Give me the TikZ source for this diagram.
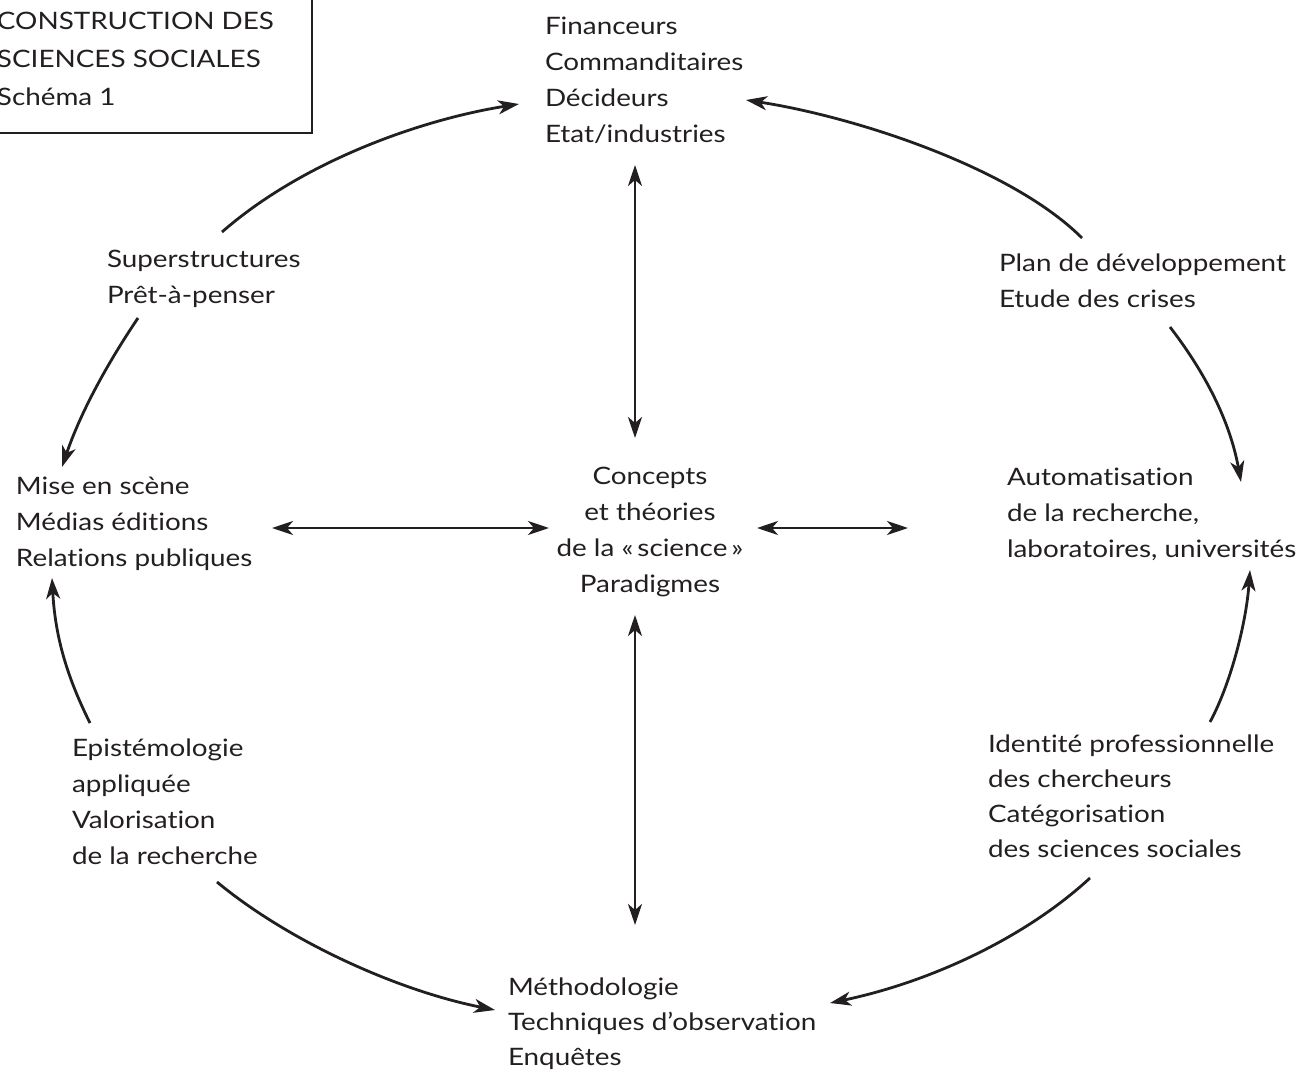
\documentclass[tikz,border=0pt]{standalone}
\usepackage{fontspec}
\setmainfont{Lato}[FakeStretch=1.16,Ligatures=CommonOff]
\usetikzlibrary{arrows.meta}
\definecolor{ink}{RGB}{35,31,32}
\begin{document}
\begin{tikzpicture}[x=1pt,y=-1pt,
  every node/.style={inner sep=0pt,outer sep=0pt,text=ink},
  lbl/.style={anchor=base west,align=left,font=\fontsize{24}{36}\selectfont},
  cbl/.style={anchor=base,align=center,font=\fontsize{24}{36}\selectfont},
  link/.style={draw=ink,line width=2.8pt,-{Stealth[length=21pt,width=14pt,inset=6pt]}},
  dlink/.style={draw=ink,line width=2.8pt,{Stealth[length=21pt,width=14pt,inset=6pt]}-{Stealth[length=21pt,width=14pt,inset=6pt]}}]
\useasboundingbox (0,0) rectangle (1311,1078);

% title box (anchored on the baseline of its last line)
\draw[ink,line width=1.3pt] (-10,-10) rectangle (312,133);
\node[lbl,font=\fontsize{24}{38}\selectfont] (title) at (-3,106)
  {CONSTRUCTION DES\\SCIENCES SOCIALES\\Schéma 1};

% text blocks, each placed by the baseline of its last line
\node[lbl] (fin) at (545,143) {Financeurs\\Commanditaires\\Décideurs\\Etat/industries};
\node[lbl] (sup) at (107,303) {Superstructures\\Prêt-à-penser};
\node[lbl] (plan) at (999,307) {Plan de développement\\Etude des crises};
\node[lbl] (mise) at (16,566) {Mise en scène\\Médias éditions\\Relations publiques};
\node[cbl] (conc) at (650,592) {Concepts\\et théories\\de la «\,science\,»\\Paradigmes};
\node[lbl] (auto) at (1007,557) {Automatisation\\de la recherche,\\laboratoires, universités};
\node[lbl] (epis) at (72,864) {Epistémologie\\appliquée\\Valorisation\\de la recherche};
\node[lbl,font=\fontsize{24}{35}\selectfont] (iden) at (988,857) {Identité professionnelle\\des chercheurs\\Catégorisation\\des sciences sociales};
\node[lbl,font=\fontsize{24}{35}\selectfont] (meth) at (508,1065) {Méthodologie\\Techniques d’observation\\Enquêtes};

% connector ends
\coordinate (a1s) at (222,232);  \coordinate (a1e) at (519,104);
\coordinate (a2s) at (1082,238); \coordinate (a2e) at (746,100);
\coordinate (a3s) at (1170,327); \coordinate (a3e) at (1241,482);
\coordinate (a4s) at (138,318);  \coordinate (a4e) at (62,467);
\coordinate (a5s) at (90,723);   \coordinate (a5e) at (52,578);
\coordinate (a6s) at (1210,722); \coordinate (a6e) at (1250,570);
\coordinate (a7s) at (217,882);  \coordinate (a7e) at (495,1010);
\coordinate (a8s) at (1090,878); \coordinate (a8e) at (830,1003);
\coordinate (v1a) at (635,165);  \coordinate (v1b) at (635,438);
\coordinate (v2a) at (635,615);  \coordinate (v2b) at (635,925);
\coordinate (h1a) at (272,528);  \coordinate (h1b) at (549,528);
\coordinate (h2a) at (757,528);  \coordinate (h2b) at (908,528);

% curved links round the cycle
\draw[link] (a1s) .. controls (302,162) and (419,120) .. (a1e);
\draw[link] (a2s) .. controls (1012,168) and (856,117) .. (a2e);
\draw[link] (a3s) .. controls (1210,379) and (1231,427) .. (a3e);
\draw[link] (a4s) .. controls (103,370) and (79,417) .. (a4e);
\draw[link] (a5s) .. controls (65,673) and (55,633) .. (a5e);
\draw[link] (a6s) .. controls (1230,685) and (1246,625) .. (a6e);
\draw[link] (a7s) .. controls (287,940) and (395,990) .. (a7e);
\draw[link] (a8s) .. controls (1025,938) and (930,982) .. (a8e);

% two-way links to the centre
\draw[dlink] (v1a) -- (v1b);
\draw[dlink] (v2a) -- (v2b);
\draw[dlink] (h1a) -- (h1b);
\draw[dlink] (h2a) -- (h2b);
\end{tikzpicture}
\end{document}
